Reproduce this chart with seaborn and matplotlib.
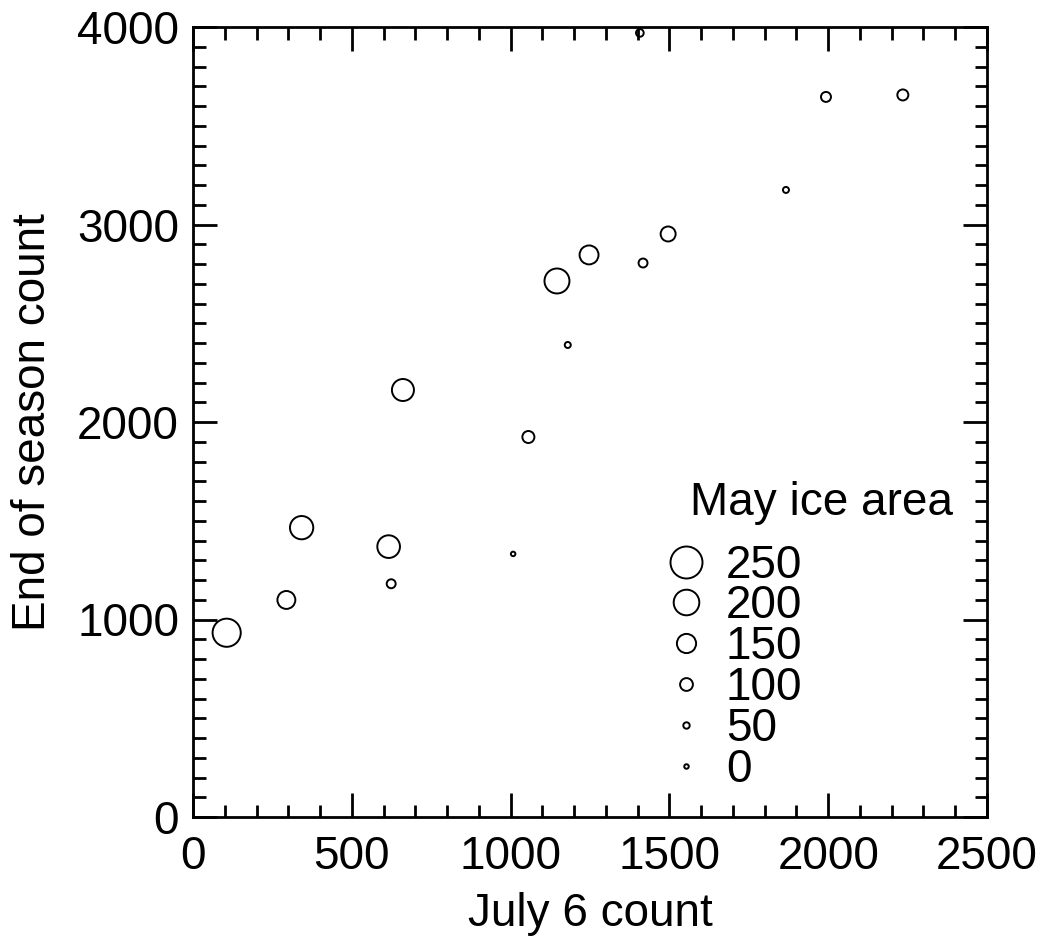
import numpy as np
import pandas as pd
import matplotlib
matplotlib.use("Agg")
import matplotlib.pyplot as plt
from matplotlib.lines import Line2D
from matplotlib.ticker import MultipleLocator
import seaborn as sns

july6_count = [106, 294, 342, 616, 624, 661, 1008, 1056, 1146, 1180, 1247, 1417, 1496, 1407, 1993, 1867, 2235]
end_season_count = [933, 1099, 1465, 1369, 1181, 2162, 1332, 1924, 2714, 2390, 2846, 2805, 2952, 3970, 3646, 3175, 3656]
may_ice_area = [220, 140, 182, 177, 70, 172, 35, 94, 195, 47, 148, 70, 117, 60, 78, 47, 86]
legend_values = [250, 200, 150, 100, 50, 0]

DPI = 100
PX_PER_PT = DPI / 72.0
FS = 33


def diam_pt(v):
    # marker diameter (points) proportional to May ice area, with a minimum size
    return max(0.128 * v, 4.5) / PX_PER_PT


sns.set_theme(style="ticks")
plt.rcParams['font.family'] = ['Liberation Sans', 'DejaVu Sans']

df = pd.DataFrame({"July 6 count": july6_count,
                   "End of season count": end_season_count,
                   "May ice area": may_ice_area})
areas = np.array([diam_pt(v) ** 2 for v in may_ice_area])

fig = plt.figure(figsize=(1044 / DPI, 942 / DPI), dpi=DPI)
ax = fig.add_axes([193 / 1044, 1 - 817 / 942, (987 - 193) / 1044, (817 - 27) / 942])

sns.scatterplot(data=df, x="July 6 count", y="End of season count", ax=ax,
                s=areas, facecolor="none", edgecolor="black", linewidth=1.4,
                marker="o", legend=False)

ax.set_xlim(0, 2500)
ax.set_ylim(0, 4000)
ax.xaxis.set_major_locator(MultipleLocator(500))
ax.xaxis.set_minor_locator(MultipleLocator(100))
ax.yaxis.set_major_locator(MultipleLocator(1000))
ax.yaxis.set_minor_locator(MultipleLocator(100))
ax.tick_params(which="both", direction="in", top=True, right=True, color="black",
               width=2.0, labelsize=FS, labelcolor="black")
ax.tick_params(which="major", length=17, pad=10)
ax.tick_params(axis="x", which="major", pad=13)
ax.tick_params(which="minor", length=9)
for sp in ax.spines.values():
    sp.set_linewidth(2.0)
    sp.set_color("black")

ax.set_xlabel("July 6 count", fontsize=FS, color="black", labelpad=9)
ax.set_ylabel("End of season count", fontsize=FS, color="black", labelpad=16)

handles = [Line2D([], [], linestyle="none", marker="o", markersize=diam_pt(v),
                  markerfacecolor="none", markeredgecolor="black", markeredgewidth=1.4)
           for v in legend_values]
leg = ax.legend(handles, [str(v) for v in legend_values],
                loc="upper left", bbox_to_anchor=(0.592, 0.346), frameon=False,
                fontsize=FS, labelspacing=-0.07, labelcolor="black",
                handlelength=1.0, handletextpad=0.37, borderaxespad=0,
                borderpad=0)
ax.text(0.626, 0.382, "May ice area", transform=ax.transAxes, fontsize=FS,
        color="black", ha="left", va="baseline")

fig.savefig("out.png", dpi=DPI, facecolor="white")
